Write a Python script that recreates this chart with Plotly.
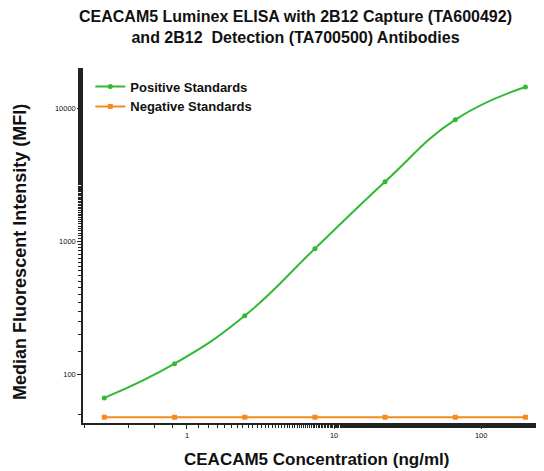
import plotly.graph_objects as go

conc = [0.274, 0.823, 2.47, 7.41, 22.2, 66.7, 200]
positive = [67, 121, 277, 882, 2800, 8170, 14360]
negative = [48, 48, 48, 48, 48, 48, 48]
y_ticks = [100, 1000, 10000]
x_ticks = [1, 10, 100]

GREEN = "#33b833"
ORANGE = "#f58a1f"
FONT = "Arial, Liberation Sans, sans-serif"

fig = go.Figure()
fig.add_trace(go.Scatter(
    x=conc, y=positive, name="<b>Positive Standards</b>", mode="lines+markers",
    line=dict(color=GREEN, width=2, shape="spline", smoothing=1.3),
    marker=dict(color=GREEN, size=5, symbol="circle")))
fig.add_trace(go.Scatter(
    x=conc, y=negative, name="<b>Negative Standards</b>", mode="lines+markers",
    line=dict(color=ORANGE, width=2),
    marker=dict(color=ORANGE, size=5, symbol="square")))

# page has an 8px body margin; figure sized/offset to compensate
fig.update_layout(
    width=536, height=463,
    margin=dict(l=75, r=4, t=60, b=48, autoexpand=False),
    paper_bgcolor="white", plot_bgcolor="white",
    font=dict(family=FONT, color="#111"),
    legend=dict(x=0.016, y=0.99, xanchor="left", yanchor="top",
                font=dict(size=13, family=FONT, color="#111"),
                bgcolor="rgba(0,0,0,0)", tracegroupgap=0),
    showlegend=True,
    annotations=[
        dict(text="<b>CEACAM5 Luminex ELISA with 2B12 Capture (TA600492)<br>and 2B12  Detection (TA700500) Antibodies</b>",
             xref="paper", yref="paper", x=0.464, y=1.0, yshift=41, xanchor="center", yanchor="middle",
             showarrow=False, font=dict(size=16, family=FONT, color="#111")),
        dict(text="<b>CEACAM5 Concentration (ng/ml)</b>",
             xref="paper", yref="paper", x=0.51, y=0, yshift=-36, xanchor="center", yanchor="middle",
             showarrow=False, font=dict(size=17, family=FONT, color="#111")),
        dict(text="<b>Median Fluorescent Intensity (MFI)</b>", textangle=-90,
             xref="paper", yref="paper", x=0, xshift=-63, y=0.482, xanchor="center", yanchor="middle",
             showarrow=False, font=dict(size=18, family=FONT, color="#111")),
    ],
)
fig.update_xaxes(
    type="log", range=[-0.707, 2.40], showgrid=False, zeroline=False, automargin=False,
    showline=True, linecolor="#222", linewidth=1.5,
    ticks="outside", ticklen=4, tickcolor="#222", tickwidth=1,
    tickvals=x_ticks, ticktext=[str(v) for v in x_ticks],
    tickfont=dict(size=7.5, family=FONT),
    minor=dict(ticks="outside", ticklen=3, tickcolor="#222", showgrid=False),
)
fig.update_yaxes(
    type="log", range=[1.638, 4.30], showgrid=False, zeroline=False, automargin=False,
    showline=True, linecolor="#222", linewidth=1.5,
    ticks="outside", ticklen=4, tickcolor="#222", tickwidth=1,
    tickvals=y_ticks, ticktext=[str(v) for v in y_ticks],
    tickfont=dict(size=7.5, family=FONT),
    minor=dict(ticks="outside", ticklen=3, tickcolor="#222", showgrid=False),
)

fig.write_html("out.html")
